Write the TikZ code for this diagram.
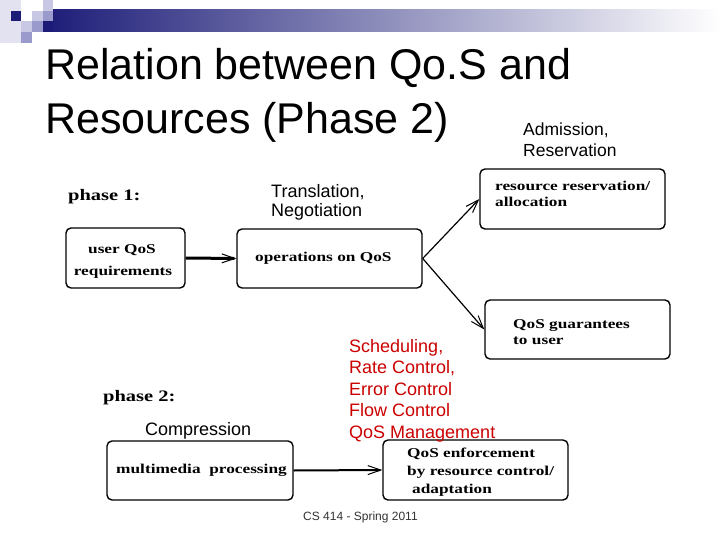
\documentclass[tikz,border=0pt]{standalone}
\usepackage{fontspec}
\setmainfont{Liberation Sans}
\newfontfamily\boxfont{Liberation Serif}[UprightFont=* Bold, FakeStretch=1.28]
\usetikzlibrary{arrows.meta}
\definecolor{navy}{HTML}{1C1C78}
\definecolor{lavmed}{HTML}{9A9ACC}
\definecolor{lavlight}{HTML}{C8C8E4}
\definecolor{lavpale}{HTML}{E2E2F0}
\definecolor{redtxt}{HTML}{CC0000}
\begin{document}
\begin{tikzpicture}[x=1pt,y=-1pt,
  box/.style={draw=black, line width=1.4pt, rounded corners=5pt, fill=white, inner sep=0pt},
  btxt/.style={font=\boxfont\fontsize{13.5}{16}\selectfont, inner sep=0pt, align=left, anchor=base west},
  phase/.style={font=\boxfont\fontsize{16}{18}\selectfont, inner sep=0pt, anchor=base west},
  note/.style={font=\fontsize{18}{21.5}\selectfont, inner sep=0pt, align=left, anchor=base west},
  title/.style={font=\fontsize{43}{54}\selectfont, inner sep=0pt, anchor=base west},
  barb/.style={-{Straight Barb[length=13pt,width=9pt,line width=1pt]}},
  thinarrow/.style={barb, line width=1.2pt},
  thickarrow/.style={barb, line width=3pt},
  midarrow/.style={barb, line width=2pt}]
\useasboundingbox[fill=white] (0,0) rectangle (720,540);
% decoration
\shade[left color=navy, right color=white] (43,10) rectangle (720,32);
\fill[lavpale] (0,0) rectangle (10.7,43);
\fill[lavpale] (0,21.3) rectangle (21.3,43);
\fill[lavpale] (10.7,0) rectangle (21.3,10.7);
\fill[lavlight] (42.7,0) rectangle (53.3,10.7);
\fill[navy] (10.7,10.7) rectangle (21.3,21.3);
\fill[lavlight] (32,10.7) rectangle (42.7,21.3);
\fill[lavmed] (42.7,10.7) rectangle (53.3,21.3);
\fill[lavlight] (21.3,21.3) rectangle (32,32);
\fill[lavmed] (32,21.3) rectangle (42.7,32);
\fill[navy] (42.7,21.3) rectangle (53.3,32);
\fill[lavmed] (21.3,32) rectangle (32,42.7);
% title
\node[title] (t1) at (45,80) {Relation between Qo.S and};
\node[title] (t2) at (45,134) {Resources (Phase 2)};
\node[note, font=\fontsize{17.5}{21.5}\selectfont] (adm) at (523,157) {Admission,\\Reservation};
% boxes
\node[box, minimum width=119pt, minimum height=60pt] (user) at (125.5,258) {};
\node[box, minimum width=185pt, minimum height=59pt] (ops) at (329.5,258.5) {};
\node[box, minimum width=185pt, minimum height=60pt] (res) at (572.5,199) {};
\node[box, minimum width=185pt, minimum height=59pt] (guar) at (577.5,329.5) {};
\node[box, minimum width=186pt, minimum height=59pt] (mm) at (200,470.5) {};
\node[box, minimum width=185pt, minimum height=60pt] (enf) at (475.5,470) {};
% box texts
\node[btxt, anchor=base] (userT1) at (122,254) {user QoS};
\node[btxt, anchor=base] (userT2) at (123,275) {requirements};
\node[btxt] (opsT) at (255,261) {operations on QoS};
\node[btxt] (resT) at (495,207) {resource reservation/\\allocation};
\node[btxt] (guarT) at (513,344) {QoS guarantees\\to user};
\node[btxt] (mmT) at (116,473) {multimedia~ processing};
\node[btxt, font=\boxfont\fontsize{13.5}{18}\selectfont] (enfT) at (407,493) {QoS enforcement\\by resource control/\\\hspace{5pt}adaptation};
% labels
\node[phase] (ph1) at (68,201) {phase 1:};
\node[phase] (ph2) at (103,401) {phase 2:};
\node[note, font=\fontsize{18}{20}\selectfont] (trans) at (271,217) {Translation,\\Negotiation};
\node[note] (comp) at (145,435) {Compression};
\node[note, text=redtxt] (sched) at (349,438) {Scheduling,\\Rate Control,\\Error Control\\Flow Control\\QoS Management};
\node[font=\fontsize{12}{14}\selectfont, text=black!80, inner sep=0pt, anchor=base west] (foot) at (303,520) {CS 414 - Spring 2011};
% connectors
\draw[thickarrow] (user.east) -- (ops.west);
\draw[thinarrow] (ops.east) -- (res.west);
\draw[thinarrow] (ops.east) -- (guar.west);
\draw[midarrow] (mm.east) -- (enf.west);
\end{tikzpicture}
\end{document}
